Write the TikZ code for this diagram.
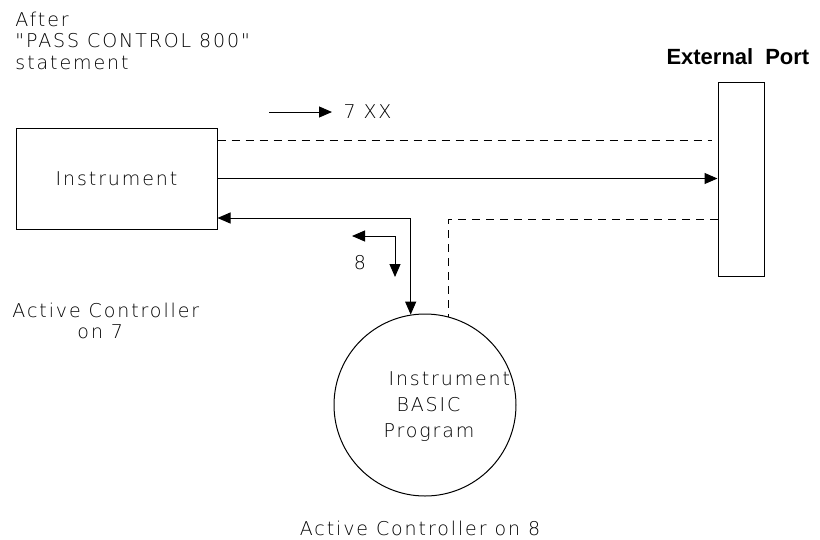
\documentclass[tikz,border=0pt]{standalone}
\usepackage{fontspec}
\newfontfamily\cadfont{DejaVu Sans ExtraLight}[LetterSpace=10]
\newfontfamily\portfont{Liberation Sans}
\usetikzlibrary{arrows.meta}

\begin{document}
\begin{tikzpicture}[x=1pt, y=-1pt, line width=1pt, >={Triangle[length=13pt,width=11pt]},
    cadtext/.style={font=\cadfont\fontsize{19}{21.5}\selectfont, inner sep=0pt},
    dashed line/.style={dash pattern=on 8pt off 6pt}]
    \useasboundingbox (0,0) rectangle (820,539);

    % Blocks
    \node[cadtext, draw, minimum width=201pt, minimum height=101pt] (inst) at (116.5,178.5) {Instrument};
    \node[draw, minimum width=46pt, minimum height=194pt] (port) at (741,179) {};
    \node[draw, circle, minimum size=182pt] (prog) at (425,405) {};
    \node[cadtext, align=left, anchor=north west] (progtext) at (383,371) {\hspace*{5pt}Instrument\\[4.5pt]\hspace*{13pt}BASIC\\[4.5pt]Program};

    % Links
    \draw[dashed line, shorten >=6pt] (inst.east |- 0,140) -- (port.west |- 0,140);
    \draw[->] (inst.east) -- (inst.east -| port.west);
    \draw[<->] (inst.east |- 0,218) -| (prog.99.5);
    \draw[dashed line] (port.west |- 0,219) -| (prog.75.4);

    % Address arrows
    \coordinate (xx tail) at (269,112);
    \node[cadtext, anchor=west, inner xsep=11pt] (xx) at (332,112) {7 XX};
    \draw[->] (xx tail) -- (xx.west);
    \coordinate (sw left) at (352,236);
    \coordinate (sw down) at (395,277);
    \draw[<->] (sw left) -| (sw down);
    \node[cadtext] (addr8) at (360,263) {8};

    % Labels
    \node[cadtext, align=left, anchor=north west] (after) at (15,11.5) {After\\"PASS CONTROL 800"\\statement};
    \node[font=\portfont\bfseries\fontsize{22}{24}\selectfont, anchor=base west, inner sep=0pt] (extport) at (666,64) {External\hspace{12pt}Port};
    \node[cadtext, align=left, anchor=north west] (ac7) at (12,302.5) {Active Controller\\\hspace*{65pt}on 7};
    \node[cadtext, anchor=base] (ac8) at (420,535) {Active Controller on 8};
\end{tikzpicture}
\end{document}
